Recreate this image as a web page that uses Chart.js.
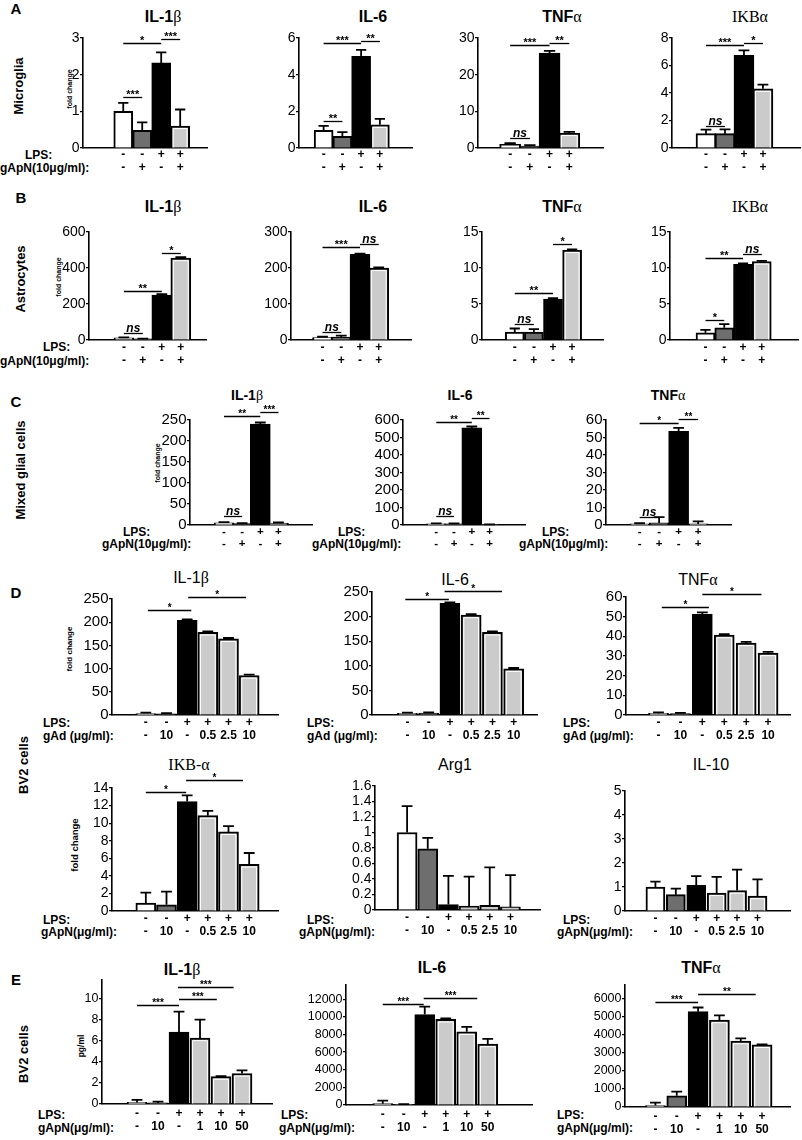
<!DOCTYPE html>
<html>
<head>
<meta charset="utf-8">
<script src="https://cdn.jsdelivr.net/npm/chart.js@4.4.1/dist/chart.umd.min.js"></script>
<style>
  body { margin: 0; background: #fff; }
  #fig { position: relative; width: 802px; height: 1140px; overflow: hidden;
         font-family: "Liberation Sans", Arial, sans-serif; color: #000; }
  #fig canvas { position: absolute; }
  .t { position: absolute; white-space: nowrap; transform: translate(-50%, -50%); line-height: 1; }
  .l { position: absolute; white-space: nowrap; transform: translate(0, -50%); line-height: 1;
       font-weight: bold; font-size: 12px; }
  .v { position: absolute; white-space: nowrap; transform: translate(-50%, -50%) rotate(-90deg);
       line-height: 1; font-weight: bold; }
  .g { font-family: "Liberation Serif", "DejaVu Serif", serif; font-weight: normal; }
  .letter { font-weight: bold; font-size: 15px; }
  .ttl { font-weight: bold; font-size: 16px; }
  .ttlc { font-weight: bold; font-size: 14px; }
  .ttld { font-size: 16px; }
  .row { font-size: 13px; }
</style>
</head>
<body>
<div id="fig"></div>
<script>
// x-axis treatment rows
const lps4 = ['-', '-', '+', '+'];
const gapn4 = ['-', '+', '-', '+'];
const lps6 = ['-', '-', '+', '+', '+', '+'];
const gad6 = ['-', '10', '-', '0.5', '2.5', '10'];
const gapn6 = ['-', '10', '-', '0.5', '2.5', '10'];
const gapnE = ['-', '10', '-', '1', '10', '50'];

// A - microglia
const a1Vals = [1.0, 0.48, 2.32, 0.6];
const a1Err = [0.23, 0.22, 0.29, 0.45];
const a1Ticks = [0, 1, 2, 3];
const a1Sig = [[0, 2, 2.87, '*'], [2, 3, 2.98, '***'], [0, 1, 1.4, '***']];
const a2Vals = [0.96, 0.63, 5.0, 1.27];
const a2Err = [0.25, 0.24, 0.35, 0.32];
const a2Ticks = [0, 2, 4, 6];
const a2Sig = [[0, 2, 5.75, '***'], [2, 3, 5.84, '**'], [0, 1, 1.5, '**']];
const a3Vals = [1.0, 0.5, 25.9, 4.1];
const a3Err = [0.3, 0.3, 0.6, 0.3];
const a3Ticks = [0, 10, 20, 30];
const a3Sig = [[0, 2, 28.2, '***'], [2, 3, 28.6, '**'], [0, 1, 2.75, 'ns']];
const a4Vals = [1.04, 1.04, 6.74, 4.31];
const a4Err = [0.3, 0.32, 0.36, 0.3];
const a4Ticks = [0, 2, 4, 6, 8];
const a4Sig = [[0, 2, 7.47, '***'], [2, 3, 7.64, '*'], [0, 1, 1.58, 'ns']];

// B - astrocytes
const b1Vals = [12, 6, 250, 455];
const b1Err = [3, 2, 5, 5];
const b1Ticks = [0, 200, 400, 600];
const b1Sig = [[0, 1, 40, 'ns'], [0, 2, 275, '**'], [2, 3, 485, '*']];
const b2Vals = [7, 8, 238, 200];
const b2Err = [2, 4, 2, 2];
const b2Ticks = [0, 100, 200, 300];
const b2Sig = [[0, 1, 22, 'ns'], [0, 2, 258, '***'], [2, 3, 266, 'ns']];
const b3Vals = [1.1, 1.1, 5.7, 12.5];
const b3Err = [0.5, 0.4, 0.1, 0.1];
const b3Ticks = [0, 5, 10, 15];
const b3Sig = [[0, 1, 2.2, 'ns'], [0, 2, 6.5, '**'], [2, 3, 13.3, '*']];
const b4Vals = [1.0, 1.7, 10.5, 10.9];
const b4Err = [0.4, 0.5, 0.15, 0.1];
const b4Ticks = [0, 5, 10, 15];
const b4Sig = [[0, 1, 2.8, '*'], [0, 2, 11.4, '**'], [2, 3, 11.9, 'ns']];

// C - mixed glial cells
const c1Vals = [5, 3.5, 240, 4.5];
const c1Err = [2, 1, 4, 1.5];
const c1Ticks = [0, 50, 100, 150, 200, 250];
const c1Sig = [[0, 1, 21, 'ns'], [0, 2, 260, '**'], [2, 3, 270, '***']];
const c2Vals = [6, 7, 555, 3];
const c2Err = [3, 2, 8, 1];
const c2Ticks = [0, 100, 200, 300, 400, 500, 600];
const c2Sig = [[0, 1, 51, 'ns'], [0, 2, 586, '**'], [2, 3, 609, '**']];
const c3Vals = [0.7, 1.2, 53.5, 0.6];
const c3Err = [0.3, 3.3, 2, 1.5];
const c3Ticks = [0, 10, 20, 30, 40, 50, 60];
const c3Sig = [[0, 1, 4.8, 'ns'], [0, 2, 58.5, '*'], [2, 3, 60.6, '**']];

// D - BV2 cells, dose series
const d1Vals = [3, 2.5, 204, 178, 164, 85];
const d1Err = [2, 1.5, 2, 2, 2, 2];
const d1Ticks = [0, 50, 100, 150, 200, 250];
const d1Sig = [[0.1, 2.2, 227, '*'], [2.05, 4.85, 253.6, '*']];
const d2Vals = [3.5, 4, 227, 203, 168, 94];
const d2Err = [1.5, 1.5, 2, 2, 2, 1.5];
const d2Ticks = [0, 50, 100, 150, 200, 250];
const d2Sig = [[-0.1, 1.95, 235, '*'], [1.75, 4.45, 252, '*']];
const d3Vals = [0.8, 0.7, 51.2, 40.6, 36.6, 31.5];
const d3Err = [0.5, 0.4, 1.0, 0.5, 0.6, 0.6];
const d3Ticks = [0, 10, 20, 30, 40, 50, 60];
const d3Sig = [[0.15, 2.3, 54.9, '*'], [2, 4.7, 61.5, '*']];
const d4Vals = [0.9, 0.7, 12.45, 10.85, 9.0, 5.3];
const d4Err = [1.2, 1.5, 0.7, 0.55, 0.65, 1.3];
const d4Ticks = [0, 2, 4, 6, 8, 10, 12, 14];
const d4Sig = [[0, 1.95, 13.5, '*'], [1.95, 4.7, 14.9, '*']];
const d5Vals = [1.0, 0.79, 0.07, 0.05, 0.06, 0.04];
const d5Err = [0.34, 0.14, 0.37, 0.38, 0.49, 0.41];
const d5Ticks = [0, 0.2, 0.4, 0.6, 0.8, 1, 1.2, 1.4, 1.6];
const d5Sig = [];
const d6Vals = [1.0, 0.68, 1.07, 0.75, 0.85, 0.62];
const d6Err = [0.22, 0.25, 0.38, 0.67, 0.87, 0.7];
const d6Ticks = [0, 1, 2, 3, 4, 5];
const d6Sig = [];

// E - BV2 cells, secreted protein
const e1Vals = [0.15, 0.1, 6.85, 6.27, 2.6, 2.9];
const e1Err = [0.25, 0.12, 1.95, 1.75, 0.05, 0.3];
const e1Ticks = [0, 2, 4, 6, 8, 10];
const e1Sig = [[0, 2, 9.4, '***'], [2, 3.8, 10.0, '***'], [1.95, 4.6, 11.15, '***']];
const e2Vals = [150, 80, 10250, 9700, 8300, 6900];
const e2Err = [350, 30, 900, 120, 550, 600];
const e2Ticks = [0, 2000, 4000, 6000, 8000, 10000, 12000];
const e2Sig = [[0, 1.95, 11500, '***'], [1.95, 4.5, 12100, '***']];
const e3Vals = [80, 620, 5300, 4830, 3660, 3450];
const e3Err = [160, 230, 230, 260, 150, 30];
const e3Ticks = [0, 1000, 2000, 3000, 4000, 5000, 6000];
const e3Sig = [[0, 2, 5830, '***'], [2, 4.7, 6300, '**']];

const fill4 = ['#ffffff', '#6e6e6e', '#000000', '#cbcbcb'];
const fill6 = ['#ffffff', '#6e6e6e', '#000000', '#cbcbcb', '#cbcbcb', '#cbcbcb'];

Chart.defaults.font.family = '"Liberation Sans", Arial, sans-serif';
Chart.defaults.color = '#000';

const fig = document.getElementById('fig');

// row styles: y tick size, x tick size, x label line height, x label padding
const rowA = { yf: 14, xf: 12, xlh: 13, xpad: 0.5, star: 11, ns: 12 };
const rowB = { yf: 14, xf: 12, xlh: 13.5, xpad: 0.5, star: 11, ns: 12 };
const rowC = { yf: 15, xf: 11.5, xlh: 12, xpad: 0.5, star: 10, ns: 12 };
const rowD = { yf: 15, xf: 12, xlh: 13, xpad: 1.5, star: 10, ns: 12 };
const rowD2 = { yf: 14, xf: 12, xlh: 13, xpad: 1.5, star: 10, ns: 12 };
const rowE = { yf: 12.5, xf: 12, xlh: 13, xpad: 3.5, star: 10, ns: 12 };

const panels = [
  { vals: a1Vals, err: a1Err, ticks: a1Ticks, sig: a1Sig, lps: lps4, dose: gapn4, row: rowA, ax: 83, end: 207, top: 38, zero: 148, c0: 116, sp: 25.3, bw: 19 },
  { vals: a2Vals, err: a2Err, ticks: a2Ticks, sig: a2Sig, lps: lps4, dose: gapn4, row: rowA, ax: 299, end: 412, top: 38, zero: 148, c0: 313, sp: 25, bw: 19 },
  { vals: a3Vals, err: a3Err, ticks: a3Ticks, sig: a3Sig, lps: lps4, dose: gapn4, row: rowA, ax: 478, end: 603, top: 38, zero: 148, c0: 500, sp: 26.3, bw: 21 },
  { vals: a4Vals, err: a4Err, ticks: a4Ticks, sig: a4Sig, lps: lps4, dose: gapn4, row: rowA, ax: 672, end: 800, top: 38, zero: 148, c0: 696, sp: 25.3, bw: 20 },
  { vals: b1Vals, err: b1Err, ticks: b1Ticks, sig: b1Sig, lps: lps4, dose: gapn4, row: rowB, ax: 89, end: 206, top: 232, zero: 340, c0: 116, sp: 25.3, bw: 20 },
  { vals: b2Vals, err: b2Err, ticks: b2Ticks, sig: b2Sig, lps: lps4, dose: gapn4, row: rowB, ax: 291, end: 411, top: 232, zero: 340, c0: 313, sp: 25, bw: 20 },
  { vals: b3Vals, err: b3Err, ticks: b3Ticks, sig: b3Sig, lps: lps4, dose: gapn4, row: rowB, ax: 482, end: 603, top: 232, zero: 340, c0: 505.5, sp: 25.5, bw: 19 },
  { vals: b4Vals, err: b4Err, ticks: b4Ticks, sig: b4Sig, lps: lps4, dose: gapn4, row: rowB, ax: 670, end: 798, top: 232, zero: 340, c0: 696, sp: 25, bw: 19 },
  { vals: c1Vals, err: c1Err, ticks: c1Ticks, sig: c1Sig, lps: lps4, dose: gapn4, row: rowC, ax: 190, end: 312, top: 420, zero: 525, c0: 215, sp: 24.2, bw: 20 },
  { vals: c2Vals, err: c2Err, ticks: c2Ticks, sig: c2Sig, lps: lps4, dose: gapn4, row: rowC, ax: 403, end: 525, top: 420, zero: 525, c0: 427, sp: 23.7, bw: 20 },
  { vals: c3Vals, err: c3Err, ticks: c3Ticks, sig: c3Sig, lps: lps4, dose: gapn4, row: rowC, ax: 606, end: 731, top: 420, zero: 525, c0: 630, sp: 26, bw: 20 },
  { vals: d1Vals, err: d1Err, ticks: d1Ticks, sig: d1Sig, lps: lps6, dose: gad6, row: rowD, ax: 112, end: 278, top: 599, zero: 715, c0: 136, sp: 24.8, bw: 20 },
  { vals: d2Vals, err: d2Err, ticks: d2Ticks, sig: d2Sig, lps: lps6, dose: gad6, row: rowD, ax: 372, end: 537, top: 592, zero: 715, c0: 398, sp: 25.5, bw: 20 },
  { vals: d3Vals, err: d3Err, ticks: d3Ticks, sig: d3Sig, lps: lps6, dose: gad6, row: rowD, ax: 626, end: 790, top: 597, zero: 715, c0: 648.6, sp: 26.3, bw: 20 },
  { vals: d4Vals, err: d4Err, ticks: d4Ticks, sig: d4Sig, lps: lps6, dose: gapn6, row: rowD2, ax: 112, end: 278, top: 788, zero: 911, c0: 136, sp: 24.8, bw: 20 },
  { vals: d5Vals, err: d5Err, ticks: d5Ticks, sig: d5Sig, lps: lps6, dose: gapn6, row: rowD2, ax: 375, end: 540, top: 786, zero: 910, c0: 397, sp: 24.8, bw: 20 },
  { vals: d6Vals, err: d6Err, ticks: d6Ticks, sig: d6Sig, lps: lps6, dose: gapn6, row: rowD2, ax: 625, end: 790, top: 791, zero: 911, c0: 645, sp: 24.5, bw: 19 },
  { vals: e1Vals, err: e1Err, ticks: e1Ticks, sig: e1Sig, lps: lps6, dose: gapnE, row: rowE, ax: 102, end: 272, top: 980, zero: 1104, c0: 127, sp: 25.2, bw: 20, yTop: 11.8 },
  { vals: e2Vals, err: e2Err, ticks: e2Ticks, sig: e2Sig, lps: lps6, dose: gapnE, row: rowE, ax: 346, end: 532, top: 985, zero: 1105, c0: 371.5, sp: 25.2, bw: 20, yTop: 13600 },
  { vals: e3Vals, err: e3Err, ticks: e3Ticks, sig: e3Sig, lps: lps6, dose: gapnE, row: rowE, ax: 625, end: 790, top: 985, zero: 1107, c0: 645, sp: 25.6, bw: 20, yTop: 6780 }
];

// upward error bars with a cap, plus the thin white inner rim of the grey bars
function errPlugin(p, fills) {
  return {
    id: 'errBars',
    afterDatasetsDraw(chart) {
      const ctx = chart.ctx;
      const y = chart.scales.y;
      const meta = chart.getDatasetMeta(0);
      ctx.save();
      meta.data.forEach((bar, i) => {
        if (fills[i] === '#cbcbcb' && bar.base - bar.y > 6) {
          const l = bar.x - bar.width / 2 + 2.6, r = bar.x + bar.width / 2 - 2.6, t = bar.y + 2.6;
          ctx.strokeStyle = '#fff';
          ctx.lineWidth = 1;
          ctx.beginPath();
          ctx.moveTo(l, bar.base);
          ctx.lineTo(l, t);
          ctx.lineTo(r, t);
          ctx.lineTo(r, bar.base);
          ctx.stroke();
        }
      });
      ctx.strokeStyle = '#000';
      ctx.lineWidth = 1.8;
      meta.data.forEach((bar, i) => {
        const yt = y.getPixelForValue(p.vals[i] + p.err[i]);
        const w = p.bw * 0.27;
        ctx.beginPath();
        ctx.moveTo(bar.x, bar.y);
        ctx.lineTo(bar.x, yt);
        ctx.moveTo(bar.x - w, yt);
        ctx.lineTo(bar.x + w, yt);
        ctx.stroke();
      });
      ctx.restore();
    }
  };
}

// significance lines with stars / ns
function sigPlugin(p) {
  return {
    id: 'sigLines',
    afterDraw(chart) {
      const { ctx, scales: { x, y } } = chart;
      ctx.save();
      ctx.strokeStyle = '#000';
      ctx.fillStyle = '#000';
      ctx.lineWidth = 1.3;
      ctx.textAlign = 'center';
      ctx.textBaseline = 'alphabetic';
      p.sig.forEach(([i, j, v, label]) => {
        const x1 = x.getPixelForValue(i);
        const x2 = x.getPixelForValue(j);
        const yy = Math.round(y.getPixelForValue(v)) + 0.5;
        ctx.beginPath();
        ctx.moveTo(x1, yy);
        ctx.lineTo(x2, yy);
        ctx.stroke();
        if (label === 'ns') {
          ctx.font = 'italic bold ' + p.row.ns + 'px "Liberation Sans", Arial, sans-serif';
          ctx.fillText(label, (x1 + x2) / 2, yy - 2);
        } else {
          ctx.font = 'bold ' + p.row.star + 'px "Liberation Sans", Arial, sans-serif';
          ctx.fillText(label, (x1 + x2) / 2, yy + 0.5);
        }
      });
      ctx.restore();
    }
  };
}

function drawPanel(p) {
  const padL = 48, padT = 46, padR = 6, padB = 36;
  const W = padL + (p.end - p.ax) + padR;
  const H = padT + (p.zero - p.top) + padB;
  const cv = document.createElement('canvas');
  cv.width = W;
  cv.height = H;
  cv.style.left = (p.ax - padL) + 'px';
  cv.style.top = (p.top - padT) + 'px';
  fig.appendChild(cv);
  const yMax = p.yTop !== undefined ? p.yTop : p.ticks[p.ticks.length - 1];
  const fills = p.vals.length === 4 ? fill4 : fill6;
  new Chart(cv, {
    type: 'bar',
    data: {
      datasets: [{
        data: p.vals.map((v, i) => ({ x: i, y: v })),
        backgroundColor: fills,
        borderColor: '#000',
        borderWidth: 2,
        barThickness: p.bw
      }]
    },
    options: {
      responsive: false,
      animation: false,
      devicePixelRatio: 1,
      layout: { padding: { left: 0, top: padT, right: padR, bottom: 0 } },
      plugins: { legend: { display: false }, tooltip: { enabled: false } },
      scales: {
        x: {
          type: 'linear',
          min: (p.ax - p.c0) / p.sp,
          max: (p.end - p.c0) / p.sp,
          afterBuildTicks: s => { s.ticks = p.lps.map((_, i) => ({ value: i })); },
          afterFit: s => { s.height = padB; },
          grid: { display: false, drawTicks: false },
          border: { display: true, color: '#000', width: 1.6 },
          ticks: {
            autoSkip: false, maxRotation: 0, minRotation: 0,
            padding: p.row.xpad, color: '#000',
            font: { size: p.row.xf, weight: 'bold', lineHeight: p.row.xlh + 'px' },
            callback: (v, i) => [p.lps[i], p.dose[i]]
          }
        },
        y: {
          min: 0,
          max: yMax,
          afterBuildTicks: s => { s.ticks = p.ticks.map(v => ({ value: v })); },
          afterFit: s => { s.width = padL; },
          grid: { drawOnChartArea: false, drawTicks: true, tickLength: 3, color: '#000', lineWidth: 1.2 },
          border: { display: true, color: '#000', width: 1.6 },
          ticks: { autoSkip: false, padding: 0.5, color: '#000', font: { size: p.row.yf }, callback: v => String(v) }
        }
      }
    },
    plugins: [errPlugin(p, fills), sigPlugin(p)]
  });
}

// html text: [html, x, y, class]
const B = s => '<span class="g">' + s + '</span>';
const texts = [
  ['A', 16, 8, 't letter'], ['B', 21, 197, 't letter'], ['C', 16, 401, 't letter'],
  ['D', 16, 592, 't letter'], ['E', 16, 979, 't letter'],
  ['Microglia', 18, 86, 'v row'], ['Astrocytes', 20, 279, 'v row'],
  ['Mixed glial cells', 20, 470, 'v row'], ['BV2 cells', 23, 765, 'v row'], ['BV2 cells', 23, 1054, 'v row'],
  ['IL-1' + B('β'), 163, 17, 't ttl'], ['IL-6', 373, 17, 't ttl'],
  ['TNF' + B('α'), 562, 17, 't ttl'], [B('IKBα'), 750, 17, 't ttl'],
  ['IL-1' + B('β'), 163, 207, 't ttl'], ['IL-6', 373, 207, 't ttl'],
  ['TNF' + B('α'), 562, 207, 't ttl'], [B('IKBα'), 750, 207, 't ttl'],
  ['IL-1' + B('β'), 247, 395, 't ttlc'], ['IL-6', 460, 395, 't ttlc'], ['TNF' + B('α'), 668, 395, 't ttlc'],
  ['IL-1' + B('β'), 191, 578, 't ttld'], ['IL-6', 455, 580, 't ttld'], ['TNF' + B('α'), 698, 580, 't ttld'],
  [B('IKB') + '-' + B('α'), 189, 765, 't ttld'], ['Arg1', 455, 765, 't ttld'], ['IL-10', 711, 765, 't ttld'],
  ['IL-1' + B('β'), 182, 970, 't ttl'], ['IL-6', 432, 968, 't ttl'], ['TNF' + B('α'), 701, 968, 't ttl'],
  ['LPS:', 25, 155, 'l'], ['gApN(10μg/ml):', 0, 168, 'l'],
  ['LPS:', 43, 347, 'l'], ['gApN(10μg/ml):', 0, 361, 'l'],
  ['LPS:', 123, 532, 'l'], ['gApN(10μg/ml):', 102, 544, 'l'],
  ['LPS:', 338, 532, 'l'], ['gApN(10μg/ml):', 312, 544, 'l'],
  ['LPS:', 542, 532, 'l'], ['gApN(10μg/ml):', 519, 544, 'l'],
  ['LPS:', 43, 723, 'l'], ['gAd (μg/ml):', 43, 736, 'l'],
  ['LPS:', 307, 723, 'l'], ['gAd (μg/ml):', 307, 736, 'l'],
  ['LPS:', 563, 723, 'l'], ['gAd (μg/ml):', 563, 736, 'l'],
  ['LPS:', 43, 920, 'l'], ['gApN(μg/ml):', 41, 932, 'l'],
  ['LPS:', 307, 920, 'l'], ['gApN(μg/ml):', 299, 932, 'l'],
  ['LPS:', 563, 920, 'l'], ['gApN(μg/ml):', 557, 932, 'l'],
  ['LPS:', 38, 1115, 'l'], ['gApN(μg/ml):', 38, 1128, 'l'],
  ['LPS:', 281, 1115, 'l'], ['gApN(μg/ml):', 279, 1128, 'l'],
  ['LPS:', 557, 1115, 'l'], ['gApN(μg/ml):', 557, 1128, 'l']
];
const axisNames = [
  ['fold change', 69, 89, 7], ['fold change', 58, 277, 7], ['fold change', 157, 463, 7],
  ['fold change', 70, 649, 8], ['fold change', 75, 845, 9.5], ['pg/ml', 81, 1046, 8.5]
];

texts.forEach(([html, x, y, cls]) => {
  const d = document.createElement('div');
  d.className = cls;
  d.innerHTML = html;
  d.style.left = x + 'px';
  d.style.top = y + 'px';
  fig.appendChild(d);
});
axisNames.forEach(([txt, x, y, size]) => {
  const d = document.createElement('div');
  d.className = 'v';
  d.textContent = txt;
  d.style.left = x + 'px';
  d.style.top = y + 'px';
  d.style.fontSize = size + 'px';
  fig.appendChild(d);
});

panels.forEach(drawPanel);
</script>
</body>
</html>
